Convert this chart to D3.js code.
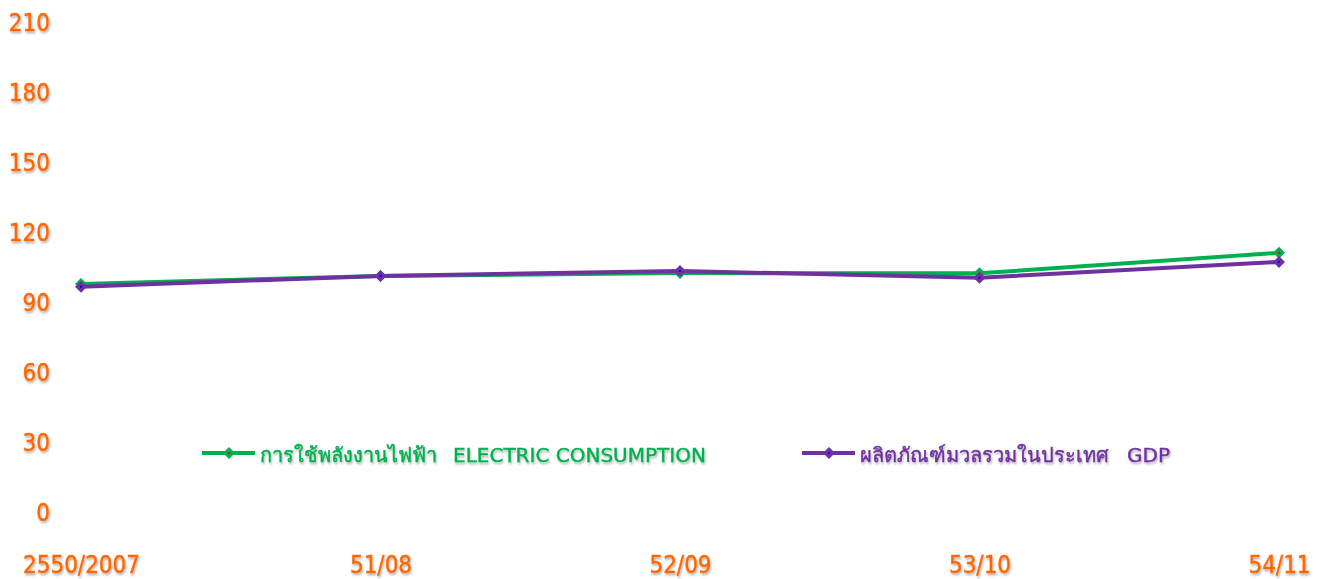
<!DOCTYPE html>
<html>
<head>
<meta charset="utf-8">
<script src="https://cdnjs.cloudflare.com/ajax/libs/d3/7.8.5/d3.min.js"></script>
<style>
  body { margin: 0; background: #fff; }
  svg { display: block; }
  text { font-family: "DejaVu Sans", "Noto Sans", sans-serif; }
  .tick text { font-family: "DejaVu Sans Condensed", "DejaVu Sans", sans-serif; font-stretch: condensed; }
</style>
</head>
<body>
<script>
// chart data
var years = ["2550/2007", "51/08", "52/09", "53/10", "54/11"];
var electric = [97.9, 101.4, 102.6, 102.5, 111.3];
var gdp = [96.8, 101.4, 103.5, 100.6, 107.4];
var yTicks = [0, 30, 60, 90, 120, 150, 180, 210];
var legendThai = ["การใช้พลังงานไฟฟ้า", "ผลิตภัณฑ์มวลรวมในประเทศ"];
var legendEng = ["ELECTRIC CONSUMPTION", "GDP"];

var svgWidth = 1320;
var svgHeight = 579;

var svg = d3.select("body")
  .append("svg")
  .attr("width", svgWidth)
  .attr("height", svgHeight);

// soft shadow under every text
var defs = svg.append("defs");
defs.append("filter")
  .attr("id", "shadow")
  .attr("x", "-10%").attr("y", "-30%")
  .attr("width", "120%").attr("height", "160%")
  .append("feDropShadow")
  .attr("dx", 1).attr("dy", 2)
  .attr("stdDeviation", 1.2)
  .attr("flood-color", "#000")
  .attr("flood-opacity", 0.3);

var orange = "#ff6600";
var green = "#00b050";
var purple = "#7030a0";

// scales
var xScale = d3.scalePoint().domain(years).range([81, 1279]);
var yScale = d3.scaleLinear().domain([0, 210]).range([512.5, 22.5]);

// y axis (labels only)
var yAxis = svg.append("g")
  .attr("transform", "translate(50,0)")
  .call(d3.axisLeft(yScale).tickValues(yTicks).tickSize(0).tickPadding(0));
yAxis.select(".domain").remove();
yAxis.selectAll("text")
  .attr("fill", orange)
  .attr("stroke", orange)
  .attr("stroke-width", 0.4)
  .style("font-size", "24px")
  .attr("filter", "url(#shadow)");

// x axis (labels only)
var xAxis = svg.append("g")
  .attr("transform", "translate(0,556)")
  .call(d3.axisBottom(xScale).tickSize(0).tickPadding(0));
xAxis.select(".domain").remove();
xAxis.selectAll("text")
  .attr("fill", orange)
  .attr("stroke", orange)
  .attr("stroke-width", 0.4)
  .style("font-size", "24px")
  .attr("filter", "url(#shadow)");

var line = d3.line()
  .x(function(d, i) { return xScale(years[i]); })
  .y(function(d) { return yScale(d); });

var series = [
  { values: electric, color: green, dot: "#ff0000" },
  { values: gdp, color: purple, dot: "#0000ff" }
];

var diamond = d3.symbol().type(d3.symbolSquare).size(72);

series.forEach(function(s) {
  svg.append("path")
    .datum(s.values)
    .attr("d", line)
    .attr("fill", "none")
    .attr("stroke", s.color)
    .attr("stroke-width", 4)
    .attr("stroke-linejoin", "round");

  var marks = svg.selectAll(null)
    .data(s.values)
    .enter()
    .append("g")
    .attr("transform", function(d, i) {
      return "translate(" + xScale(years[i]) + "," + yScale(d) + ")";
    });
  marks.append("path")
    .attr("d", diamond)
    .attr("transform", "rotate(45)")
    .attr("fill", s.color);
  marks.append("rect")
    .attr("x", -1).attr("y", -1)
    .attr("width", 2).attr("height", 2)
    .attr("fill", s.dot);
});

// legend
var legendX = [202, 802];
var engX = [453, 1127];
var legendY = 453;

series.forEach(function(s, i) {
  var g = svg.append("g").attr("transform", "translate(" + legendX[i] + "," + legendY + ")");
  g.append("line")
    .attr("x1", 0).attr("x2", 53)
    .attr("y1", 0).attr("y2", 0)
    .attr("stroke", s.color)
    .attr("stroke-width", 4);
  g.append("path")
    .attr("d", diamond)
    .attr("transform", "translate(27,0) rotate(45)")
    .attr("fill", s.color);
  g.append("rect")
    .attr("x", 26).attr("y", -1)
    .attr("width", 2).attr("height", 2)
    .attr("fill", s.dot);

  var t = svg.append("text")
    .attr("y", legendY + 2)
    .attr("dy", "0.35em")
    .attr("fill", s.color)
    .attr("font-size", "20px")
    .attr("stroke", s.color)
    .attr("stroke-width", 0.4)
    .attr("filter", "url(#shadow)");
  t.append("tspan").attr("x", legendX[i] + 58).text(legendThai[i]);
  t.append("tspan").attr("x", engX[i]).text(legendEng[i]);
});
</script>
</body>
</html>
